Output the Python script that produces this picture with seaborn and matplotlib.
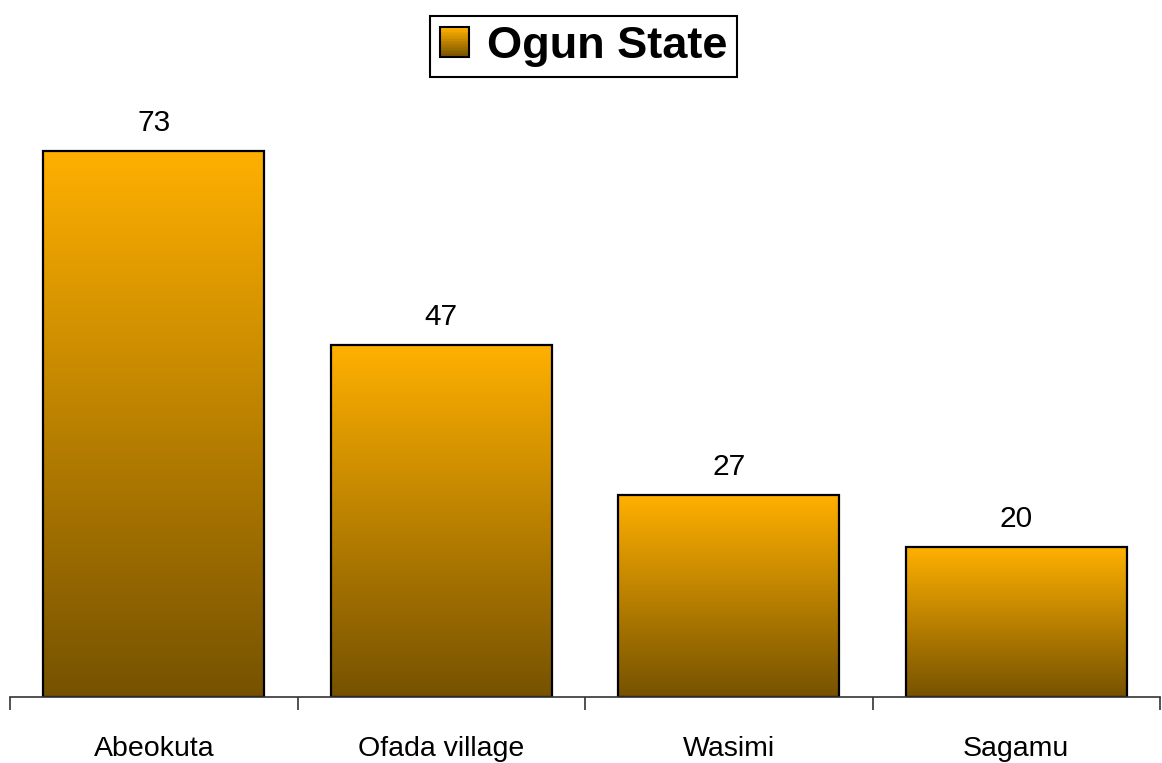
import numpy as np
import pandas as pd
import matplotlib
matplotlib.use('Agg')
import matplotlib.pyplot as plt
import seaborn as sns
from matplotlib.colors import LinearSegmentedColormap
from matplotlib.patches import Rectangle
from matplotlib.legend_handler import HandlerBase

places = ['Abeokuta', 'Ofada village', 'Wasimi', 'Sagamu']
counts = [73, 47, 27, 20]
series_name = 'Ogun State'

top_col = '#FFB000'
bottom_col = '#765200'
grad = LinearSegmentedColormap.from_list('grad', [bottom_col, top_col])

df = pd.DataFrame({'place': places, 'count': counts})

sns.set_style('white')
plt.rcParams['font.family'] = ['Liberation Sans', 'DejaVu Sans']
plt.rcParams['text.color'] = 'black'
plt.rcParams['xtick.color'] = 'black'
plt.rcParams['xtick.labelcolor'] = 'black'

fig = plt.figure(figsize=(11.62, 7.63), dpi=100)
ax = fig.add_axes([10 / 1162, 66 / 763, 1150 / 1162, 597 / 763])

sns.barplot(data=df, x='place', y='count', ax=ax, width=0.77,
            color=top_col, edgecolor='black', linewidth=1.6)

ax.set_xlim(-0.5, 3.5)
ax.set_ylim(0, 79.8)

# gradient fill inside every bar
g = np.linspace(0, 1, 256).reshape(-1, 1)
for p in ax.patches:
    x0, y0 = p.get_x(), p.get_y()
    w, h = p.get_width(), p.get_height()
    im = ax.imshow(g, cmap=grad, origin='lower', aspect='auto',
                   extent=(x0, x0 + w, y0, y0 + h), zorder=1.5)
    im.set_clip_path(p)
    p.set_facecolor('none')
    p.set_zorder(2)

ax.bar_label(ax.containers[0], labels=[str(v) for v in counts],
             padding=10, fontsize=21.5, color='black')

sns.despine(ax=ax, left=True)
ax.spines['bottom'].set_color('#333333')
ax.spines['bottom'].set_linewidth(1.2)
ax.set_yticks([])
ax.set_xlabel('')
ax.set_ylabel('')
ax.set_xticks(np.arange(-0.5, 4, 1), minor=True)
ax.tick_params(axis='x', which='minor', length=9, width=1.2, color='#333333',
               direction='out', bottom=True)
ax.tick_params(axis='x', which='major', length=0, pad=28, labelsize=20.5,
               labelcolor='black')


class GradHandler(HandlerBase):
    def create_artists(self, legend, orig_handle, xdescent, ydescent,
                       width, height, fontsize, trans):
        arts = []
        n = 20
        for i in range(n):
            r = Rectangle((-xdescent, -ydescent + height * i / n), width,
                          height / n + 0.3, facecolor=grad(i / (n - 1)),
                          edgecolor='none', transform=trans)
            arts.append(r)
        arts.append(Rectangle((-xdescent, -ydescent), width, height,
                              facecolor='none', edgecolor='black',
                              linewidth=1.5, transform=trans))
        return arts


handle = Rectangle((0, 0), 1, 1)
leg = fig.legend([handle], [series_name], handler_map={Rectangle: GradHandler()},
                 loc='center', bbox_to_anchor=(0.502, 0.939),
                 prop={'size': 32.5, 'weight': 'bold'}, frameon=True,
                 fancybox=False, edgecolor='black', framealpha=1,
                 handlelength=0.66, handleheight=0.66, handletextpad=0.38,
                 borderpad=0.22, labelcolor='black')
leg.get_frame().set_linewidth(1.5)

fig.savefig('out.png', dpi=100)
